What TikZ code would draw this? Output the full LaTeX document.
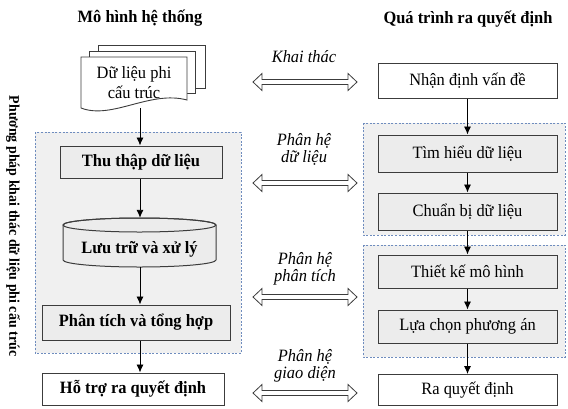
\documentclass[tikz,border=0pt]{standalone}
\usepackage{fontspec}
\setmainfont{Liberation Serif}[FakeStretch=0.95]
\usetikzlibrary{arrows.meta}
\definecolor{dashblue}{RGB}{110,140,190}
\definecolor{grpfill}{RGB}{240,240,240}
\definecolor{boxfill}{RGB}{236,236,236}
\definecolor{edge}{RGB}{60,60,60}
\tikzset{
  grp/.style={draw=dashblue, fill=grpfill, line width=0.8pt, dash pattern=on 2pt off 1.6pt},
  lbox/.style={draw=edge, line width=1pt, fill=boxfill, inner sep=0pt, font=\fontsize{17.3}{19}\selectfont\bfseries},
  rbox/.style={draw=edge, line width=1pt, fill=boxfill, inner sep=0pt, minimum width=179, font=\fontsize{17.3}{19}\selectfont},
  wbox/.style={rbox, fill=white},
  page/.style={draw=edge, line width=0.9pt, fill=white},
  arr/.style={line width=0.9pt, -{Latex[length=8pt,width=7pt]}},
  harrow/.style={draw=edge, line width=0.8pt, fill=white},
  lab/.style={align=center, font=\fontsize{17.3}{17}\selectfont\itshape},
  ttl/.style={font=\fontsize{17.3}{19}\selectfont\bfseries},
}
\newcommand{\hollowarrow}[4]{% name, y, x1, x2
  \coordinate (#1-l) at (#3,#2);
  \coordinate (#1-r) at (#4,#2);
  \draw[harrow] (#1-l) -- (#3+9,#2-8.5) -- (#3+9,#2-2.5) -- (#4-9,#2-2.5) -- (#4-9,#2-8.5) -- (#1-r)
     -- (#4-9,#2+8.5) -- (#4-9,#2+2.5) -- (#3+9,#2+2.5) -- (#3+9,#2+8.5) -- cycle;
}
\begin{document}
\begin{tikzpicture}[x=1pt,y=-1pt]
\useasboundingbox (0,0) rectangle (568,408);
% titles
\node[ttl] (t1) at (140,18) {Mô hình hệ thống};
\node[ttl] (t2) at (468,19) {Quá trình ra quyết định};
% rotated side title
\node[rotate=-90, font=\fontsize{14.7}{16}\selectfont\bfseries] (side) at (13,226) {Phương pháp khai thác dữ liệu phi cấu trúc};
% group boxes
\draw[grp] (35,132) rectangle (241,353);
\draw[grp] (363,123) rectangle (565,235);
\draw[grp] (363,245) rectangle (565,357);
% multi-document
\draw[page] (98,45) rectangle (205,88);
\draw[page] (89,51) rectangle (195,93);
\draw[page] (81,57) -- (187,57) -- (187,100) .. controls (150,90) and (112,120) .. (81,108) -- cycle;
\node[align=center, font=\fontsize{17.3}{20}\selectfont, minimum width=106, minimum height=51] (doc) at (134,82.5) {Dữ liệu phi\\cấu trúc};
% left column
\node[lbox, minimum width=162, minimum height=32] (thu) at (141,162) {Thu thập dữ liệu};
\draw[draw=edge, line width=1pt, fill=boxfill] (63,225) -- (63,260) arc[start angle=180, end angle=360, x radius=76.5pt, y radius=7pt] -- (216,225) arc[start angle=0, end angle=180, x radius=76.5pt, y radius=7pt] -- cycle;
\draw[draw=edge, line width=1pt] (139.5,225) ellipse[x radius=76.5pt, y radius=7pt];
\node[minimum width=153, minimum height=49, inner sep=0pt] (cyl) at (139.5,242.5) {};
\node[font=\fontsize{17.3}{19}\selectfont\bfseries] (cyltext) at (139.5,249) {Lưu trữ và xử lý};
\node[lbox, minimum width=188, minimum height=35] (pt) at (136,322.5) {Phân tích và tổng hợp};
\node[lbox, fill=white, minimum width=182, minimum height=32] (ht) at (133,389) {Hỗ trợ ra quyết định};
% right column
\node[wbox, minimum height=35] (nhan) at (467.5,80.5) {Nhận định vấn đề};
\node[rbox, minimum height=37] (tim) at (467.5,153.5) {Tìm hiểu dữ liệu};
\node[rbox, minimum height=37] (chuan) at (467.5,211.5) {Chuẩn bị dữ liệu};
\node[rbox, minimum height=33] (thiet) at (467.5,271.5) {Thiết kế mô hình};
\node[rbox, minimum height=33] (lua) at (467.5,326.5) {Lựa chọn phương án};
\node[wbox, minimum height=31] (ra) at (467.5,390) {Ra quyết định};
% vertical arrows
\coordinate (lx) at (140,0);
\draw[arr] (140,108) -- (thu.north -| lx);
\draw[arr] (thu.south -| lx) -- (cyl.north -| lx);
\draw[arr] (cyl.south -| lx) -- (pt.north -| lx);
\draw[arr] (pt.south -| lx) -- (ht.north -| lx);
\draw[arr] (nhan) -- (tim);
\draw[arr] (tim) -- (chuan);
\draw[arr] (chuan) -- (thiet);
\draw[arr] (thiet) -- (lua);
\draw[arr] (lua) -- (ra);
% hollow double arrows and labels
\hollowarrow{h1}{82}{253}{357}
\hollowarrow{h2}{183}{253}{357}
\hollowarrow{h3}{297}{253}{357}
\hollowarrow{h4}{393}{253}{357}
\node[lab] (l1) at (304,57) {Khai thác};
\node[lab] (l2) at (304,149) {Phân hệ\\dữ liệu};
\node[lab] (l3) at (305,269) {Phân hệ\\phân tích};
\node[lab] (l4) at (305,366) {Phân hệ\\giao diện};
\end{tikzpicture}
\end{document}
